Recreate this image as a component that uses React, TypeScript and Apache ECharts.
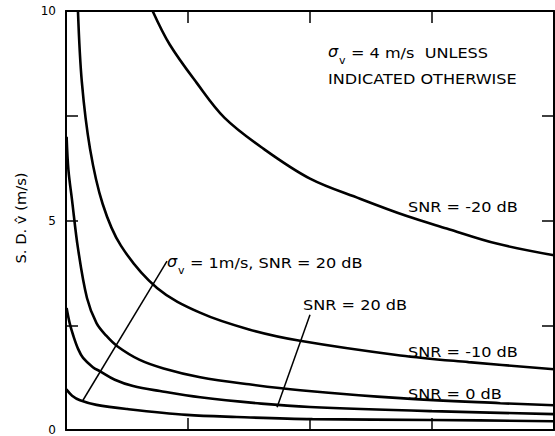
import React, { useEffect, useRef } from "react";
import * as echarts from "echarts";

// SNR = -20 dB (sigma_v = 4 m/s)
const xM20 = [0.71, 0.85, 1.07, 1.3, 1.62, 2.0, 2.41, 2.8, 3.12, 3.53, 4.0];
const yM20 = [10.0, 9.2, 8.29, 7.45, 6.71, 6.0, 5.52, 5.1, 4.81, 4.45, 4.17];
// SNR = -10 dB
const xM10 = [0.098, 0.13, 0.197, 0.3, 0.45, 0.746, 1.098, 1.5, 1.918, 2.74, 3.3, 4.0];
const yM10 = [10.0, 8.3, 6.71, 5.4, 4.4, 3.39, 2.8, 2.4, 2.13, 1.78, 1.62, 1.45];
// SNR = 0 dB
const x0 = [0.005, 0.02, 0.049, 0.098, 0.172, 0.25, 0.33, 0.42, 0.6, 0.8, 1.1, 1.5, 1.92, 2.74, 3.56, 4.0];
const y0 = [7.0, 6.2, 5.5, 4.34, 3.15, 2.55, 2.25, 2.0, 1.68, 1.47, 1.26, 1.09, 0.95, 0.76, 0.64, 0.59];
// SNR = 20 dB
const x20 = [0.005, 0.03, 0.06, 0.1, 0.14, 0.22, 0.28, 0.4, 0.55, 0.77, 1.1, 1.6, 2.0, 3.0, 4.0];
const y20 = [2.91, 2.55, 2.25, 1.93, 1.72, 1.5, 1.4, 1.2, 1.05, 0.93, 0.78, 0.63, 0.55, 0.45, 0.38];
// sigma_v = 1 m/s, SNR = 20 dB
const x1 = [0.003, 0.05, 0.115, 0.25, 0.5, 0.99, 1.4, 2.02, 3.0, 4.0];
const y1 = [0.97, 0.82, 0.71, 0.6, 0.5, 0.36, 0.31, 0.26, 0.24, 0.21];

// arrows (data coordinates): [startX, startY, endX, endY]
const arrowSigma1 = [0.828, 4.03, 0.139, 0.71];
const arrowSnr20 = [2.0, 2.75, 1.73, 0.545];

const yLabelValues = [0, 5, 10];
const xMin = 0;
const xMax = 4;
const yMin = 0;
const yMax = 10;

const FONT = "DejaVu Sans";

function pairs(xs: number[], ys: number[]) {
  return xs.map((x, i) => [x, ys[i]]);
}

function txt(text: string, x: number, y: number, extra: any = {}) {
  return {
    type: "text",
    x,
    y,
    scaleX: extra.scaleX ?? 1.15,
    rotation: extra.rotation ?? 0,
    silent: true,
    style: {
      text,
      fontSize: extra.fontSize ?? 14,
      fontFamily: FONT,
      fontStyle: extra.fontStyle ?? "normal",
      fill: "#000",
      align: extra.align ?? "left",
      verticalAlign: "middle",
    },
  };
}

const mkLine = () => ({ show: true, onZero: false, lineStyle: { color: "#000", width: 2 } });
const mkTick = () => ({ show: true, inside: true, length: 12, lineStyle: { color: "#000", width: 1.5 } });

export default function App() {
  const ref = useRef<HTMLDivElement>(null);
  useEffect(() => {
    if (!ref.current) return;
    const chart = echarts.init(ref.current, null, { renderer: "svg" });
    const curves = [
      pairs(xM20, yM20),
      pairs(xM10, yM10),
      pairs(x0, y0),
      pairs(x20, y20),
      pairs(x1, y1),
    ];
    const names = ["SNR = -20 dB", "SNR = -10 dB", "SNR = 0 dB", "SNR = 20 dB", "σv = 1 m/s, SNR = 20 dB"];
    const series: any[] = curves.map((d, i) => ({
      type: "line",
      name: names[i],
      data: d,
      smooth: 0.35,
      showSymbol: false,
      clip: true,
      lineStyle: { color: "#000", width: 2.6 },
    }));
    series[4].markLine = {
      silent: true,
      symbol: ["none", "arrow"],
      symbolSize: [0, 9],
      label: { show: false },
      lineStyle: { color: "#000", width: 1.5, type: "solid" },
      data: [
        [
          { coord: [arrowSigma1[0], arrowSigma1[1]] },
          { coord: [arrowSigma1[2], arrowSigma1[3]] },
        ],
        [
          { coord: [arrowSnr20[0], arrowSnr20[1]] },
          { coord: [arrowSnr20[2], arrowSnr20[3]] },
        ],
      ],
    };
    chart.setOption({
      animation: false,
      backgroundColor: "#fff",
      grid: { left: 66, right: 1, top: 11, bottom: 3, containLabel: false },
      xAxis: [
        {
          type: "value", position: "bottom", min: xMin, max: xMax, interval: 1,
          axisLine: mkLine(), axisTick: mkTick(), axisLabel: { show: false }, splitLine: { show: false },
        },
        {
          type: "value", position: "top", min: xMin, max: xMax, interval: 1,
          axisLine: mkLine(), axisTick: mkTick(), axisLabel: { show: false }, splitLine: { show: false },
        },
      ],
      yAxis: [
        {
          type: "value", position: "left", min: yMin, max: yMax, interval: 2.5,
          axisLine: mkLine(), axisTick: mkTick(), splitLine: { show: false },
          axisLabel: {
            show: true, color: "#000", fontSize: 12, fontFamily: FONT, margin: 10,
            formatter: (v: number) => (yLabelValues.includes(v) ? String(v) : ""),
          },
        },
        {
          type: "value", position: "right", min: yMin, max: yMax, interval: 2.5,
          axisLine: mkLine(), axisTick: mkTick(), splitLine: { show: false }, axisLabel: { show: false },
        },
      ],
      series,
      graphic: [
        txt("S. D. v\u0302 (m/s)", 21, 218, { rotation: Math.PI / 2, align: "center", scaleX: 1.05 }),
        txt("σ", 328, 51, { fontStyle: "italic", fontSize: 16, scaleX: 1 }),
        txt("v", 339, 60, { fontSize: 11, scaleX: 1 }),
        txt("= 4 m/s  UNLESS", 351, 53),
        txt("INDICATED OTHERWISE", 328, 79),
        txt("SNR = -20 dB", 408, 207),
        txt("σ", 167, 261, { fontStyle: "italic", fontSize: 16, scaleX: 1 }),
        txt("v", 178, 270, { fontSize: 11, scaleX: 1 }),
        txt("= 1m/s, SNR = 20 dB", 190, 263),
        txt("SNR = 20 dB", 303, 305),
        txt("SNR = -10 dB", 408, 352),
        txt("SNR = 0 dB", 408, 394),
      ],
    });
    return () => chart.dispose();
  }, []);
  return (
    <div
      ref={ref}
      style={{ position: "fixed", left: 0, top: 0, width: 555, height: 436, background: "#fff" }}
    />
  );
}
